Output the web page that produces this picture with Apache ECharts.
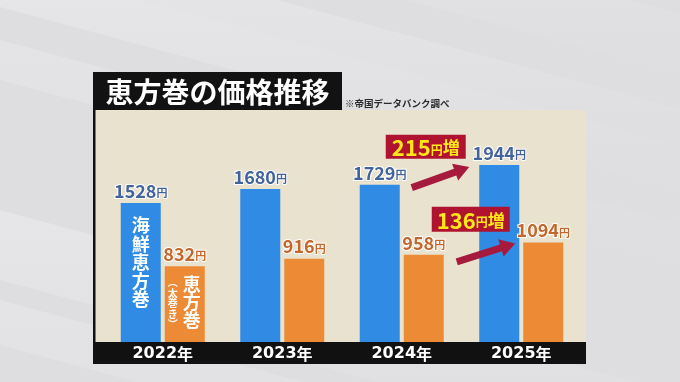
<!DOCTYPE html>
<html><head><meta charset="utf-8">
<script src="https://cdn.jsdelivr.net/npm/echarts@6/dist/echarts.min.js"></script>
<style>html,body{margin:0;padding:0;background:#dedee0}#c{width:680px;height:382px}</style>
</head><body><div id="c"></div><script>
const categories = ['2022年', '2023年', '2024年', '2025年'];
const kaisenValues = [1528, 1680, 1729, 1944];
const futomakiValues = [832, 916, 958, 1094];
const kaisenName = '海鮮恵方巻';
const futomakiName = '恵方巻';
const increaseAmounts = [215, 136];
const titleText = '恵方巻の価格推移';
const sourceText = '※帝国データバンク調べ';

const FONT = "'Noto Sans CJK JP', sans-serif";
const chart = echarts.init(document.getElementById('c'), null, {renderer: 'canvas'});

function valueLabel(color) {
  return {
    show: true, position: 'top', distance: 3,
    formatter: p => '{n|' + p.value + '}{y|円}',
    rich: {
      n: {fontFamily: FONT, fontSize: 18, fontWeight: 'bold', color: color, textBorderColor: '#fff', textBorderWidth: 2},
      y: {fontFamily: FONT, fontSize: 11, fontWeight: 'bold', color: color, textBorderColor: '#fff', textBorderWidth: 2, padding: [4, 0, 0, 0]}
    }
  };
}

chart.setOption({
  backgroundColor: '#dedee0',
  animation: false,
  grid: {left: 103, right: 99, top: 114.5, bottom: 40},
  xAxis: {
    type: 'category', data: categories,
    axisLine: {show: false}, axisTick: {show: false},
    axisLabel: {interval: 0, hideOverlap: false, color: '#fff', fontFamily: "'DejaVu Sans', sans-serif", fontWeight: 'bold', fontSize: 16, margin: 4,
      formatter: v => '{n|' + v.slice(0, 4) + '}{y|' + v.slice(4) + '}',
      rich: {
        n: {fontFamily: "'DejaVu Sans', sans-serif", fontWeight: 'bold', fontSize: 16, color: '#fff'},
        y: {fontFamily: FONT, fontWeight: 'bold', fontSize: 16, color: '#fff'}
      }}
  },
  yAxis: {type: 'value', min: 0, max: 2500, show: false, splitLine: {show: false}},
  series: [
    {type: 'bar', name: kaisenName, data: kaisenValues, barWidth: 40, barGap: '10%',
     itemStyle: {color: '#2f8be3'}, label: valueLabel('#43639b')},
    {type: 'bar', name: futomakiName, data: futomakiValues, barWidth: 40,
     itemStyle: {color: '#ec8a36'}, label: valueLabel('#c4672c')}
  ]
});

const d0 = chart.getModel().getSeriesByIndex(0).getData();
const d1 = chart.getModel().getSeriesByIndex(1).getData();
const L0 = i => d0.getItemLayout(i);
const L1 = i => d1.getItemLayout(i);
const topOf = l => Math.min(l.y, l.y + l.height);

function band(y0, t, color) {
  return {type: 'polygon', z: -20, silent: true,
    shape: {points: [[0, y0], [680, y0 + 184], [680, y0 + 184 + t], [0, y0 + t]]},
    style: {fill: {type: 'linear', x: 0, y: 0, x2: 0, y2: 1, colorStops: [
      {offset: 0, color: color}, {offset: 1, color: '#dedee0'}]}}};
}
function arrow(s, e, color) {
  const dx = e[0] - s[0], dy = e[1] - s[1];
  const len = Math.hypot(dx, dy), ux = dx / len, uy = dy / len, nx = -uy, ny = ux;
  const hw = 3.5, hl = 15, hh = 9;
  const bx = e[0] - ux * hl, by = e[1] - uy * hl;
  return {type: 'polygon', z: 100, shape: {points: [
    [s[0] + nx * hw, s[1] + ny * hw], [bx + nx * hw, by + ny * hw], [bx + nx * hh, by + ny * hh],
    [e[0], e[1]], [bx - nx * hh, by - ny * hh], [bx - nx * hw, by - ny * hw], [s[0] - nx * hw, s[1] - ny * hw]
  ]}, style: {fill: color}};
}
function incBox(x, y, w, h, amount) {
  return [
    {type: 'rect', z: 100, shape: {x: x, y: y, width: w, height: h}, style: {fill: '#b0132f'}},
    {type: 'text', z: 101, x: x + w / 2, y: y + h / 2 + 1, style: {
      text: '{n|' + amount + '}{y|円}{z|増}', align: 'center', verticalAlign: 'middle',
      rich: {
        n: {fontFamily: FONT, fontSize: 22, fontWeight: 'bold', fill: '#ffe719'},
        y: {fontFamily: FONT, fontSize: 12, fontWeight: 'bold', fill: '#ffe719', padding: [5, 0, 0, 0]},
        z: {fontFamily: FONT, fontSize: 17, fontWeight: 'bold', fill: '#ffe719'}
      }}}
  ];
}

const b0 = L0(0), o0 = L1(0);
const b2 = L0(2), b3 = L0(3), o2 = L1(2), o3 = L1(3);
const s1 = [b2.x + b2.width + 12, topOf(b2) + 3], e1 = [b3.x - 10, topOf(b3) + 2];
const s2 = [o2.x + o2.width + 13, topOf(o2) + 7], e2 = [o3.x - 8, topOf(o3) + 1];

const elements = [
  band(-170, 60, '#e8e8ea'), band(-75, 50, '#e7e7e9'), band(-38, 45, '#e7e7e9'),
  band(40, 40, '#e4e4e6'), band(210, 70, '#e6e6e8'), band(300, 45, '#e4e4e6'),
  {type: 'rect', z: -5, shape: {x: 93, y: 110, width: 493, height: 232}, style: {fill: '#e9e2cf'}},
  {type: 'rect', z: -4, shape: {x: 93, y: 100, width: 2.5, height: 264}, style: {fill: '#111'}},
  {type: 'rect', z: -4, shape: {x: 93, y: 342, width: 493, height: 22}, style: {fill: '#111'}},
  {type: 'rect', z: 50, shape: {x: 93, y: 72, width: 249, height: 38}, style: {fill: '#121212'}},
  {type: 'text', z: 51, x: 217.5, y: 92, style: {text: titleText, fill: '#fff', font: 'bold 28px ' + FONT, align: 'center', verticalAlign: 'middle'}},
  {type: 'text', z: 51, x: 345, y: 103, style: {text: sourceText, fill: '#2a2a2a', font: 'bold 9.5px ' + FONT, align: 'left', verticalAlign: 'middle'}},
  {type: 'text', z: 100, x: b0.x + b0.width / 2, y: topOf(b0) + 13, style: {
    text: kaisenName.split('').join('\n'), fill: '#fff', font: 'bold 18px ' + FONT, lineHeight: 18.5, align: 'center', verticalAlign: 'top'}},
  {type: 'text', z: 100, x: o0.x + o0.width / 2 + 7, y: topOf(o0) + 9, style: {
    text: futomakiName.split('').join('\n'), fill: '#fff', font: 'bold 18px ' + FONT, lineHeight: 18, align: 'center', verticalAlign: 'top'}},
  {type: 'text', z: 100, x: o0.x + o0.width / 2 - 12, y: topOf(o0) + 11, style: {
    text: '︵\n太\n巻\nき\n︶', fill: '#fff', font: 'bold 10px ' + FONT, lineHeight: 10.5, align: 'center', verticalAlign: 'top'}},
  arrow(s1, e1, '#a61b3d'), arrow(s2, e2, '#a61b3d'),
  ...incBox(s1[0] - 26, s1[1] - 53, 80, 24, increaseAmounts[0]),
  ...incBox(s2[0] - 25, s2[1] - 55, 78, 25, increaseAmounts[1])
];
chart.setOption({graphic: {elements: elements}});
</script></body></html>
